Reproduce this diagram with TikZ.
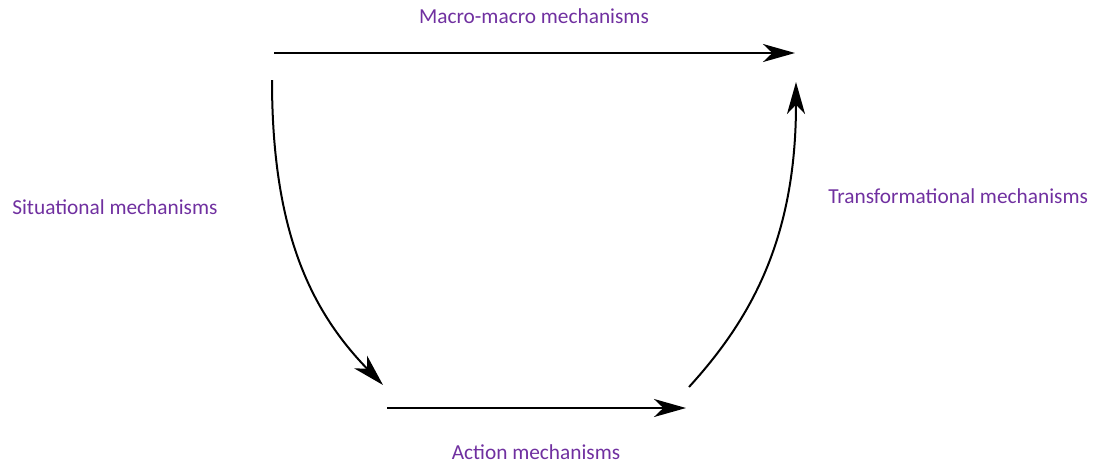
\documentclass[tikz,border=0pt]{standalone}
\usepackage{fontspec}
\setmainfont{Carlito}
\usetikzlibrary{arrows.meta}
\definecolor{labelpurple}{HTML}{7030A0}
\begin{document}
\begin{tikzpicture}[x=0.75pt,y=-0.75pt,
  flow/.style={line width=1.5pt,-{Stealth[length=24pt,width=13.5pt,inset=7pt]}},
  lbl/.style={text=labelpurple,font=\fontsize{16}{19}\selectfont,inner sep=0pt}]
\useasboundingbox (0,0) rectangle (1099,465);
% end points of the four connectors
\coordinate (mmS) at (274,53);
\coordinate (mmE) at (795,53);
\coordinate (sitS) at (272,80);
\coordinate (sitE) at (383,385);
\coordinate (actS) at (387,408);
\coordinate (actE) at (686,408);
\coordinate (trS) at (689,387);
\coordinate (trE) at (796,82);
% connectors
\draw[flow] (mmS) -- (mmE);
\draw[flow] (sitS) .. controls (272,230) and (310,310) .. (sitE);
\draw[flow] (actS) -- (actE);
\draw[flow] (trS) .. controls (750,320) and (796,240) .. (trE);
% labels
\node[lbl] (mm) at (534,16) {Macro-macro mechanisms};
\node[lbl,anchor=west] (sit) at (12,207) {Situational mechanisms};
\node[lbl,anchor=west] (tr) at (828,196) {Transformational mechanisms};
\node[lbl] (act) at (536,452) {Action mechanisms};
\end{tikzpicture}
\end{document}
